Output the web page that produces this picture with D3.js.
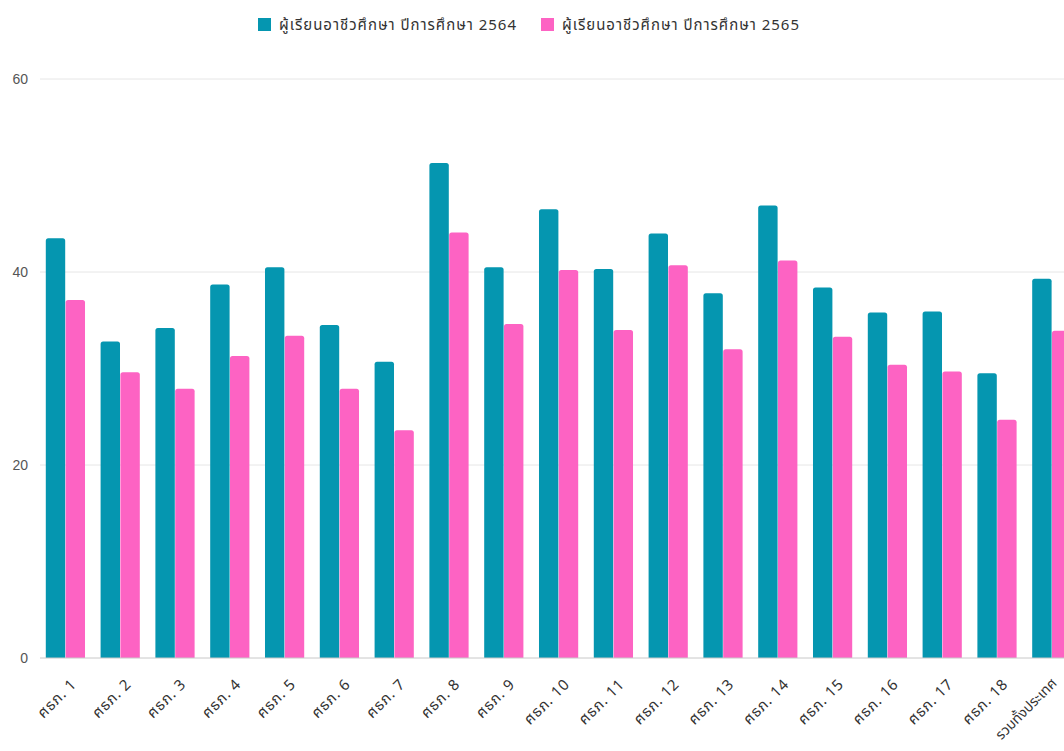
<!DOCTYPE html>
<html lang="th">
<head>
<meta charset="utf-8">
<title>ผู้เรียนอาชีวศึกษา ปีการศึกษา 2564–2565</title>
<script src="https://cdn.jsdelivr.net/npm/d3@7/dist/d3.min.js"></script>
<style>
  html, body { margin: 0; padding: 0; background: #fff; overflow: hidden; }
  svg { display: block; }
  text { font-family: "Noto Sans Thai", "Leelawadee UI", Tahoma, "DejaVu Sans", "Noto Sans", sans-serif; }
</style>
</head>
<body>
<svg id="chart"></svg>
<script>
// Regions (ศึกษาธิการภาค 1–18) plus the national total
const categories = [
  "ศธภ. 1", "ศธภ. 2", "ศธภ. 3", "ศธภ. 4", "ศธภ. 5", "ศธภ. 6", "ศธภ. 7",
  "ศธภ. 8", "ศธภ. 9", "ศธภ. 10", "ศธภ. 11", "ศธภ. 12", "ศธภ. 13",
  "ศธภ. 14", "ศธภ. 15", "ศธภ. 16", "ศธภ. 17", "ศธภ. 18", "รวมทั้งประเทศ"
];

const seriesNames = [
  "ผู้เรียนอาชีวศึกษา ปีการศึกษา 2564",
  "ผู้เรียนอาชีวศึกษา ปีการศึกษา 2565"
];

const values2564 = [43.5, 32.8, 34.2, 38.7, 40.5, 34.5, 30.7, 51.3, 40.5, 46.5,
                    40.3, 44.0, 37.8, 46.9, 38.4, 35.8, 35.9, 29.5, 39.3];
const values2565 = [37.1, 29.6, 27.9, 31.3, 33.4, 27.9, 23.6, 44.1, 34.6, 40.2,
                    34.0, 40.7, 32.0, 41.2, 33.3, 30.4, 29.7, 24.7, 33.9];

const yTicks = [0, 20, 40, 60];

const colors = ["#0596b0", "#fd63c3"];

const W = 1100, H = 751;
const left = 38, step = 54.8;
const yTop = 79, yBottom = 658;

const svg = d3.select("#chart").attr("width", W).attr("height", H);

const x0 = d3.scaleBand()
  .domain(categories)
  .range([left, left + step * categories.length])
  .paddingInner(0.27)
  .paddingOuter(0.135);

const x1 = d3.scaleBand()
  .domain([0, 1])
  .range([0, x0.bandwidth()])
  .padding(0.02);

const y = d3.scaleLinear().domain([0, 60]).range([yBottom, yTop]);

// Horizontal grid lines
svg.append("g")
  .selectAll("line")
  .data(yTicks.filter(d => d !== 0))
  .join("line")
  .attr("x1", 40).attr("x2", W)
  .attr("y1", d => y(d)).attr("y2", d => y(d))
  .attr("stroke", "#e6e6e6").attr("stroke-width", 1);

// Y axis labels
const yAxis = d3.axisLeft(y).tickValues(yTicks).tickSize(0).tickPadding(0);
svg.append("g")
  .attr("transform", "translate(28,0)")
  .call(yAxis)
  .call(g => g.select(".domain").remove())
  .call(g => g.selectAll("text")
    .attr("fill", "#555")
    .attr("font-size", 14)
    .style("font-family", "'Liberation Sans', Arial, sans-serif"));

// Bars with slightly rounded top corners
const rTop = 2.5;
function barPath(xp, w, yTopPx, yBase) {
  const r = Math.min(rTop, w / 2, (yBase - yTopPx) / 2);
  return `M${xp},${yBase}V${yTopPx + r}Q${xp},${yTopPx} ${xp + r},${yTopPx}` +
         `H${xp + w - r}Q${xp + w},${yTopPx} ${xp + w},${yTopPx + r}V${yBase}Z`;
}

const rows = categories.map((c, i) => ({ cat: c, vals: [values2564[i], values2565[i]] }));

const groups = svg.append("g")
  .selectAll("g")
  .data(rows)
  .join("g")
  .attr("transform", d => `translate(${x0(d.cat)},0)`);

groups.selectAll("path")
  .data(d => d.vals.map((v, k) => ({ v, k })))
  .join("path")
  .attr("d", d => barPath(x1(d.k), x1.bandwidth(), y(d.v), y(0)))
  .attr("fill", d => colors[d.k]);

// Baseline
svg.append("line")
  .attr("x1", 40).attr("x2", W)
  .attr("y1", y(0)).attr("y2", y(0))
  .attr("stroke", "#c8c8c8").attr("stroke-width", 1);

// X axis labels, rotated; the long national-total label is set a little
// smaller and tighter so it stays inside the page
const xAxis = d3.axisBottom(x0).tickSize(0).tickPadding(0);
svg.append("g")
  .attr("transform", `translate(0,${y(0)})`)
  .call(xAxis)
  .call(g => g.select(".domain").remove())
  .call(g => g.selectAll("text")
    .attr("fill", "#333")
    .attr("dy", null)
    .attr("text-anchor", "end")
    .each(function (d, i, n) {
      const last = i === n.length - 1;
      d3.select(this)
        .attr("font-size", last ? 14 : 15)
        .attr("letter-spacing", last ? 0 : 0.8)
        .attr("transform", last ? "translate(6,26) rotate(-45)" : "translate(12,27) rotate(-45)");
    }));

// Legend
const legend = svg.append("g");
const legendX = [258, 541];
seriesNames.forEach((name, k) => {
  legend.append("rect")
    .attr("x", legendX[k]).attr("y", 18)
    .attr("width", 13).attr("height", 13)
    .attr("fill", colors[k]);
  legend.append("text")
    .attr("x", legendX[k] + 21).attr("y", 30)
    .attr("font-size", 15)
    .attr("fill", "#333")
    .attr("textLength", 237)
    .attr("lengthAdjust", "spacing")
    .text(name);
});
</script>
</body>
</html>
